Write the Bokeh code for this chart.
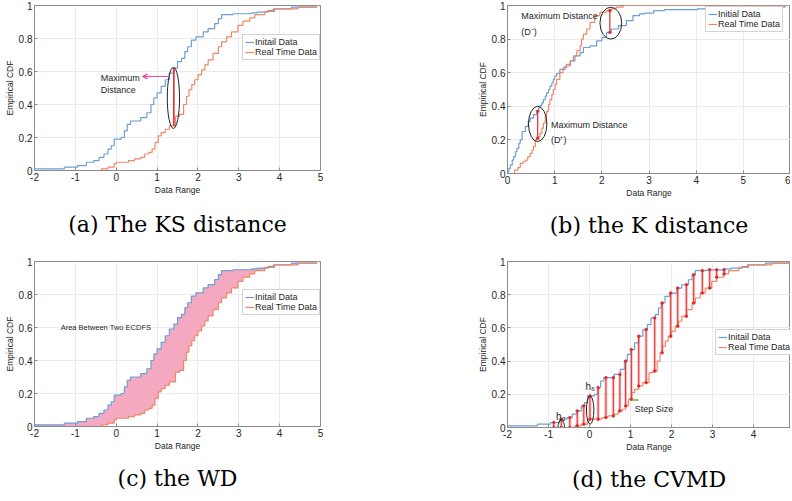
import numpy as np
from bokeh.plotting import figure
from bokeh.layouts import column, row
from bokeh.models import (Range1d, FixedTicker, Legend, LegendItem, Arrow, VeeHead,
                          CustomJSTickFormatter)
from bokeh.core.properties import value
from bokeh.embed import file_html
from bokeh.resources import INLINE

# ---------------- data: panels (a), (c), (d) ----------------
init_x = [-2.0, -1.27, -0.95, -0.73, -0.55, -0.42, -0.3, -0.2, -0.12, -0.05, 0.12, 0.2, 0.27, 0.35,
          0.6, 0.75, 0.85, 0.92, 1.0, 1.1, 1.2, 1.3, 1.41, 1.5, 1.6, 1.68, 1.75, 1.84, 1.95, 2.13,
          2.25, 2.41, 2.5, 2.58, 2.86, 3.31, 3.45, 3.72, 3.85, 4.29, 4.9]
init_y = [0.01, 0.02, 0.03, 0.05, 0.06, 0.08, 0.10, 0.13, 0.15, 0.19, 0.20, 0.24, 0.28, 0.30,
          0.32, 0.35, 0.40, 0.44, 0.47, 0.51, 0.55, 0.59, 0.62, 0.66, 0.68, 0.72, 0.75, 0.79, 0.81, 0.84,
          0.86, 0.89, 0.92, 0.945, 0.95, 0.955, 0.96, 0.97, 0.98, 0.99, 1.0]
rt_x = [-2.0, -0.36, -0.2, -0.05, 0.0, 0.3, 0.45, 0.6, 0.7, 0.8, 0.88, 0.95, 1.03, 1.1, 1.2, 1.3,
        1.45, 1.55, 1.65, 1.72, 1.78, 1.85, 1.92, 2.0, 2.09, 2.17, 2.25, 2.37, 2.5, 2.58, 2.7, 2.82,
        2.98, 3.1, 3.27, 3.39, 3.64, 3.88, 4.45, 4.9]
rt_y = [0.0, 0.01, 0.02, 0.04, 0.05, 0.06, 0.07, 0.08, 0.10, 0.11, 0.13, 0.17, 0.21, 0.23, 0.25, 0.27,
        0.33, 0.34, 0.40, 0.45, 0.49, 0.52, 0.55, 0.58, 0.61, 0.64, 0.67, 0.71, 0.75, 0.78, 0.81, 0.84,
        0.88, 0.905, 0.925, 0.945, 0.965, 0.98, 0.99, 1.0]

# ---------------- data: panel (b) ----------------
b_init_x = [0.0, 0.03, 0.06, 0.1, 0.13, 0.17, 0.2, 0.24, 0.27, 0.31, 0.38, 0.44, 0.48, 0.55, 0.62,
            0.66, 0.69, 0.73, 0.76, 0.8, 0.83, 0.87, 0.9, 0.94, 0.97, 1.0, 1.04, 1.11, 1.22, 1.33,
            1.43, 1.54, 1.61, 1.75, 1.89, 2.0, 2.1, 2.2, 2.35, 2.52, 2.66, 2.8, 2.9, 3.1, 3.33, 4.03,
            4.63, 5.88]
b_init_y = [0.01, 0.03, 0.05, 0.08, 0.10, 0.13, 0.15, 0.18, 0.20, 0.25, 0.28, 0.31, 0.33, 0.35, 0.37,
            0.39, 0.405, 0.42, 0.44, 0.46, 0.48, 0.50, 0.52, 0.54, 0.56, 0.58, 0.595, 0.62, 0.64, 0.67,
            0.70, 0.72, 0.75, 0.76, 0.79, 0.81, 0.84, 0.86, 0.88, 0.91, 0.94, 0.95, 0.955, 0.97, 0.976,
            0.98, 0.99, 1.0]
b_rt_x = [0.0, 0.15, 0.22, 0.27, 0.33, 0.38, 0.43, 0.48, 0.52, 0.55, 0.59, 0.62, 0.66, 0.69, 0.73,
          0.76, 0.8, 0.83, 0.87, 0.9, 0.94, 0.97, 1.01, 1.04, 1.11, 1.18, 1.25, 1.33, 1.4, 1.47, 1.54,
          1.57, 1.61, 1.68, 1.75, 1.85, 1.96, 2.1, 2.2, 2.3, 2.45]
b_rt_y = [0.0, 0.02, 0.035, 0.06, 0.07, 0.08, 0.10, 0.12, 0.14, 0.16, 0.2, 0.21, 0.22, 0.24, 0.27,
          0.30, 0.34, 0.37, 0.41, 0.44, 0.47, 0.50, 0.53, 0.56, 0.60, 0.63, 0.65, 0.67, 0.70, 0.73, 0.76,
          0.80, 0.83, 0.86, 0.90, 0.94, 0.96, 0.97, 0.98, 0.99, 1.0]

# distance locations
ks_x = [1.41]                       # (a) maximum distance
k_x = [0.64, 2.17]                  # (b) D+ and D-
cvm_x = [-0.87, -0.69, -0.48, -0.30, -0.14, 0.01, 0.21, 0.40, 0.58, 0.74, 0.88, 1.02, 1.20, 1.38,
         1.59, 1.77, 1.98, 2.15, 2.36, 2.54, 2.75, 2.93, 3.10, 3.28]   # (d) evaluation points

# labels
captions = ["(a) The KS distance", "(b) the K distance", "(c) the WD", "(d) the CVMD"]
legend_a = ["Initail Data", "Real Time Data"]
legend_b = ["Initial Data", "Real Time Data"]
x_ticks_a = [-2, -1, 0, 1, 2, 3, 4, 5]
x_ticks_b = [0, 1, 2, 3, 4, 5, 6]
y_ticks = [0, 0.2, 0.4, 0.6, 0.8, 1.0]

# annotations
ann_a = dict(x=[-0.38, -0.38], y=[0.56, 0.49], text=["Maximum", "Distance"])
arrow_a = (1.28, 0.57, 0.64, 0.57)
ell_a = dict(x=[1.4], y=[0.44], w=[0.3], h=[0.37])
ann_b = dict(x=[0.29, 0.29, 0.92, 0.92], y=[0.935, 0.845, 0.286, 0.2],
             text=["Maximum Distance", "(D\u207b)", "Maximum Distance", "(D\u207a)"])
ell_b = dict(x=[0.64, 2.19], y=[0.295, 0.895], w=[0.39, 0.46], h=[0.21, 0.19])
ann_c = dict(x=[-1.36], y=[0.6], text=["Area Between Two ECDFS"])
ann_d = dict(x=[-0.7, 0.02], y=[0.064, 0.25], text=["h\u2082", "h\u2086"])
step_text = dict(x=[1.1], y=[0.11], text=["Step Size"])
step_mark = (1.04, 1.2, 0.165)
ell_d = dict(x=[-0.69, 0.015], y=[0.0, 0.105], w=[0.16, 0.18], h=[0.09, 0.17])

BLUE = "#6d9ed6"
ORANGE = "#ef8866"
RED = "#e52b2b"
PINK_FILL = "#f5a9c0"
PINK = "#ff3f9f"
AXIS = "#8c8c8c"
TXT = "#262626"
FONT = "Liberation Sans"


def ecdf_at(xs, ys, q):
    xs = np.asarray(xs, float)
    ys = np.asarray(ys, float)
    q = np.asarray(q, float)
    idx = np.searchsorted(xs, q, side="right") - 1
    return np.where(idx >= 0, ys[np.clip(idx, 0, None)], 0.0)


def extend(xs, ys, xmax):
    return list(xs) + [xmax], list(ys) + [ys[-1]]


def make_fig(caption, xr, xticks, fw, fh, top, bottom, left, right, standoff):
    p = figure(frame_width=fw, frame_height=fh, x_range=Range1d(*xr), y_range=Range1d(0, 1),
               output_backend="svg", toolbar_location=None, tools="",
               title=caption, title_location="below",
               min_border_top=top, min_border_bottom=bottom,
               min_border_left=left, min_border_right=right,
               background_fill_color="white", border_fill_color="white")
    p.title.align = "center"
    p.title.text_font = "DejaVu Serif"
    p.title.text_font_size = "22px"
    p.title.text_font_style = "normal"
    p.title.text_color = "black"
    p.title.standoff = standoff
    p.xaxis.axis_label = "Data Range"
    p.yaxis.axis_label = "Empirical CDF"
    p.xaxis.ticker = FixedTicker(ticks=xticks)
    p.yaxis.ticker = FixedTicker(ticks=y_ticks)
    fmt = "return String(Math.round(tick*10)/10)"
    p.xaxis.formatter = CustomJSTickFormatter(code=fmt)
    p.yaxis.formatter = CustomJSTickFormatter(code=fmt)
    for ax in (p.xaxis[0], p.yaxis[0]):
        ax.axis_label_text_font = FONT
        ax.axis_label_text_font_size = "8.5px"
        ax.axis_label_text_font_style = "normal"
        ax.axis_label_text_color = TXT
        ax.axis_label_standoff = 1
        ax.major_label_text_font = FONT
        ax.major_label_text_font_size = "10px"
        ax.major_label_text_color = TXT
        ax.major_label_standoff = 2
        ax.major_tick_in = 3
        ax.major_tick_out = 0
        ax.minor_tick_in = 0
        ax.minor_tick_out = 0
        ax.axis_line_color = AXIS
        ax.major_tick_line_color = AXIS
    p.xgrid.grid_line_color = "#ebebeb"
    p.ygrid.grid_line_color = "#ebebeb"
    p.outline_line_color = AXIS
    return p


def add_legend(p, r1, r2, labels, loc):
    leg = Legend(items=[LegendItem(label=labels[0], renderers=[r1]),
                        LegendItem(label=labels[1], renderers=[r2])],
                 location=loc, label_text_font=FONT, label_text_font_size="9px",
                 label_text_color=TXT, label_height=10, glyph_height=10, glyph_width=9,
                 label_standoff=1, padding=2, spacing=0, margin=0,
                 border_line_color="#a8a8a8", background_fill_color="white",
                 background_fill_alpha=1.0)
    p.add_layout(leg)


def add_text(p, d, size="9px", align="left"):
    p.text(x=d["x"], y=d["y"], text=d["text"], text_font=value(FONT), text_font_size=size,
           text_color=TXT, text_align=align, text_baseline="middle")


def add_ellipses(p, d):
    p.ellipse(x=d["x"], y=d["y"], width=d["w"], height=d["h"], fill_color=None,
              line_color="#222222", line_width=1)


LEFT = 34

# ---------------- (a) ----------------
pa = make_fig(captions[0], (-2, 5), x_ticks_a, 286, 165, 5, 83, LEFT, 153, 24)
ax1, ay1 = extend(init_x, init_y, 5)
ax2, ay2 = extend(rt_x, rt_y, 5)
r1 = pa.step(ax1, ay1, mode="after", line_color=BLUE, line_width=1.2)
r2 = pa.step(ax2, ay2, mode="after", line_color=ORANGE, line_width=1.2)
ks_lo = ecdf_at(rt_x, rt_y, ks_x)
ks_hi = ecdf_at(init_x, init_y, ks_x)
pa.segment(x0=ks_x, y0=ks_lo, x1=ks_x, y1=ks_hi, line_color=RED, line_width=1.6)
add_ellipses(pa, ell_a)
add_text(pa, ann_a)
pa.add_layout(Arrow(end=VeeHead(size=5, line_color=PINK, line_width=1, fill_color=PINK),
                    x_start=arrow_a[0], y_start=arrow_a[1], x_end=arrow_a[2], y_end=arrow_a[3],
                    line_color=PINK, line_width=1))
add_legend(pa, r1, r2, legend_a, (208, 110))

# ---------------- (b) ----------------
pb = make_fig(captions[1], (0, 6), x_ticks_b, 283, 168, 5, 80, LEFT, 0, 21)
bx1, by1 = extend(b_init_x, b_init_y, 6)
bx2, by2 = extend(b_rt_x, b_rt_y, 6)
s1 = pb.step(bx1, by1, mode="after", line_color=BLUE, line_width=1.2)
s2 = pb.step(bx2, by2, mode="after", line_color=ORANGE, line_width=1.2)
k_lo = ecdf_at(b_rt_x, b_rt_y, k_x)
k_hi = ecdf_at(b_init_x, b_init_y, k_x)
k_top = np.maximum(k_lo, k_hi)
k_bot = np.minimum(k_lo, k_hi)
pb.segment(x0=k_x, y0=k_bot, x1=k_x, y1=k_top, line_color=RED, line_width=1.2)
pb.scatter(x=k_x + k_x, y=list(k_top) + list(k_bot), size=2.5, color=RED)
add_ellipses(pb, ell_b)
add_text(pb, ann_b)
add_legend(pb, s1, s2, legend_b, (198, 141))

# ---------------- (c) ----------------
pc = make_fig(captions[2], (-2, 5), x_ticks_a, 286, 165, 8, 72, LEFT, 153, 21)
grid_x = sorted(set(init_x) | set(rt_x) | {5.0})
pc.varea_step(x=grid_x, y1=ecdf_at(rt_x, rt_y, grid_x), y2=ecdf_at(init_x, init_y, grid_x),
              step_mode="after", fill_color=PINK_FILL, fill_alpha=1.0)
c1 = pc.step(ax1, ay1, mode="after", line_color=BLUE, line_width=1.2)
c2 = pc.step(ax2, ay2, mode="after", line_color=ORANGE, line_width=1.2)
add_text(pc, ann_c, size="7.5px")
add_legend(pc, c1, c2, legend_a, (208, 111))

# ---------------- (d) ----------------
pd_ = make_fig(captions[3], (-2, 4.9), x_ticks_a, 283, 166, 8, 71, LEFT, 0, 20)
d1 = pd_.step(ax1, ay1, mode="after", line_color=BLUE, line_width=1.2)
d2 = pd_.step(ax2, ay2, mode="after", line_color=ORANGE, line_width=1.2)
cv_lo = ecdf_at(rt_x, rt_y, cvm_x)
cv_hi = ecdf_at(init_x, init_y, cvm_x)
pd_.segment(x0=cvm_x, y0=cv_lo, x1=cvm_x, y1=cv_hi, line_color="#f08080", line_width=3, line_alpha=0.45)
pd_.segment(x0=cvm_x, y0=cv_lo, x1=cvm_x, y1=cv_hi, line_color=RED, line_width=1)
pd_.scatter(x=cvm_x + cvm_x, y=list(cv_lo) + list(cv_hi), size=2.5, color=RED)
add_ellipses(pd_, ell_d)
add_text(pd_, ann_d, size="10px", align="center")
add_text(pd_, step_text)
pd_.segment(x0=[step_mark[0]], y0=[step_mark[2]], x1=[step_mark[1]], y1=[step_mark[2]],
            line_color="#66bb33", line_width=1.5)
add_legend(pd_, d1, d2, legend_a, (208, 72))

layout = column(row(pa, pb), row(pc, pd_))
open("out.html", "w").write(file_html(layout, INLINE, title="ECDF distances"))
